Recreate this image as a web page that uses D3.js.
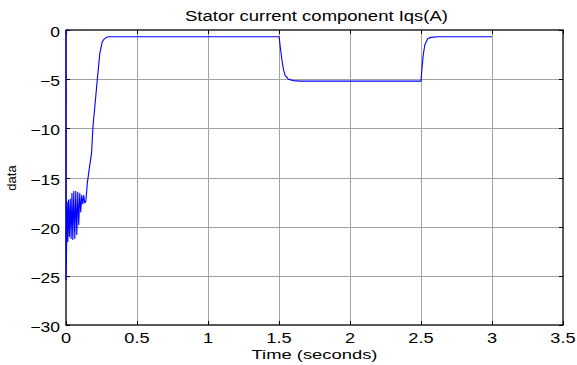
<!DOCTYPE html>
<html>
<head>
<meta charset="utf-8">
<script src="https://cdn.jsdelivr.net/npm/d3@7"></script>
<style>
  html, body { margin: 0; padding: 0; background: #fff; }
  svg { display: block; font-family: Arial, "Liberation Sans", Helvetica, sans-serif; }
</style>
</head>
<body>
<svg id="chart" width="577" height="365"></svg>
<script>
// Stator current Iqs over time (s, A)
const timeS = [
  0, 0.0005, 0.004, 0.008, 0.013, 0.018, 0.024, 0.030, 0.036, 0.042, 0.048,
  0.055, 0.062, 0.069, 0.076, 0.083, 0.090, 0.097, 0.104, 0.111, 0.118,
  0.125, 0.132, 0.140, 0.150, 0.165, 0.180, 0.190, 0.205, 0.220,
  0.238, 0.255, 0.270, 0.290, 0.310,
  1.500, 1.503, 1.507, 1.519, 1.530, 1.542, 1.566, 1.601, 1.650,
  2.500, 2.503, 2.507, 2.516, 2.527, 2.547, 2.570, 2.620, 3.000
];
const iqs = [
  0, -25.4, -22.3, -17.5, -21.5, -17.3, -21.0, -17.2, -21.2, -16.6, -21.3,
  -16.4, -21.2, -16.4, -20.8, -16.5, -19.8, -16.6, -18.5, -16.8, -17.7,
  -16.8, -17.6, -17.4, -15.6, -14.0, -12.5, -9.8, -7.5, -5.1,
  -2.4, -1.2, -0.9, -0.72, -0.68,
  -0.68, -0.9, -1.5, -2.9, -3.9, -4.6, -5.0, -5.15, -5.2,
  -5.2, -4.6, -3.9, -2.5, -1.5, -0.9, -0.75, -0.69, -0.68
];
const xTicks = [0, 0.5, 1, 1.5, 2, 2.5, 3, 3.5];
const yTicks = [-30, -25, -20, -15, -10, -5, 0];
const titleText = "Stator current component Iqs(A)";
const xLabel = "Time (seconds)";
const yLabel = "data";

const svg = d3.select("#chart");
const L = 66, R = 563, T = 30, B = 325;

const x = d3.scaleLinear().domain([0, 3.5]).range([L, R]);
const y = d3.scaleLinear().domain([-30, 0]).range([B, T]);

// Widen glyphs horizontally to the chart's type proportions
function stretch(sel, k) {
  sel.each(function () {
    const w = this.getComputedTextLength();
    d3.select(this).attr("textLength", w * k).attr("lengthAdjust", "spacingAndGlyphs");
  });
}

// grid
const grid = svg.append("g").attr("stroke", "#a3a3a3").attr("stroke-width", 1);
grid.selectAll("line.gx").data(xTicks.slice(1, -1)).join("line")
  .attr("x1", d => Math.round(x(d)) + 0.5).attr("x2", d => Math.round(x(d)) + 0.5)
  .attr("y1", T).attr("y2", B);
grid.selectAll("line.gy").data(yTicks.slice(1, -1)).join("line")
  .attr("y1", d => Math.round(y(d)) + 0.5).attr("y2", d => Math.round(y(d)) + 0.5)
  .attr("x1", L).attr("x2", R);

// inward ticks on all four sides
const tk = svg.append("g").attr("stroke", "#000").attr("stroke-width", 1);
xTicks.forEach(d => {
  const px = Math.round(x(d)) + 0.5;
  tk.append("line").attr("x1", px).attr("x2", px).attr("y1", B).attr("y2", B - 4);
  tk.append("line").attr("x1", px).attr("x2", px).attr("y1", T).attr("y2", T + 4);
});
yTicks.forEach(d => {
  const py = Math.round(y(d)) + 0.5;
  tk.append("line").attr("x1", L).attr("x2", L + 4).attr("y1", py).attr("y2", py);
  tk.append("line").attr("x1", R).attr("x2", R - 4).attr("y1", py).attr("y2", py);
});

// axes box
svg.append("rect")
  .attr("x", L).attr("y", T).attr("width", R - L).attr("height", B - T)
  .attr("fill", "none").attr("stroke", "#000").attr("stroke-width", 1.3);

// signal, drawn over the box
const line = d3.line().x((d, i) => x(timeS[i])).y(d => y(d));
svg.append("path").datum(iqs)
  .attr("d", line)
  .attr("fill", "none")
  .attr("stroke", "#0000ff")
  .attr("stroke-width", 1.1)
  .attr("stroke-linejoin", "round");

// tick labels
svg.append("g").selectAll("text").data(xTicks).join("text")
  .attr("x", d => x(d)).attr("y", 343)
  .attr("text-anchor", "middle").attr("font-size", 14).attr("fill", "#000")
  .text(d => d3.format("")(d))
  .call(stretch, 1.3);

svg.append("g").selectAll("text").data(yTicks).join("text")
  .attr("x", 60).attr("y", d => y(d) + 7)
  .attr("text-anchor", "end").attr("font-size", 14).attr("fill", "#000")
  .text(d => d3.format("")(d))
  .call(stretch, 1.25);

// title and axis labels
svg.append("text")
  .attr("x", 316.5).attr("y", 21)
  .attr("text-anchor", "middle").attr("font-size", 14).attr("fill", "#000")
  .text(titleText)
  .attr("textLength", 263).attr("lengthAdjust", "spacingAndGlyphs");

svg.append("text")
  .attr("x", 314.5).attr("y", 359)
  .attr("text-anchor", "middle").attr("font-size", 13.5).attr("fill", "#000")
  .text(xLabel)
  .attr("textLength", 126).attr("lengthAdjust", "spacingAndGlyphs");

svg.append("text")
  .attr("transform", "translate(16,178) rotate(-90)")
  .attr("text-anchor", "middle").attr("font-size", 13).attr("fill", "#000")
  .text(yLabel);
</script>
</body>
</html>
